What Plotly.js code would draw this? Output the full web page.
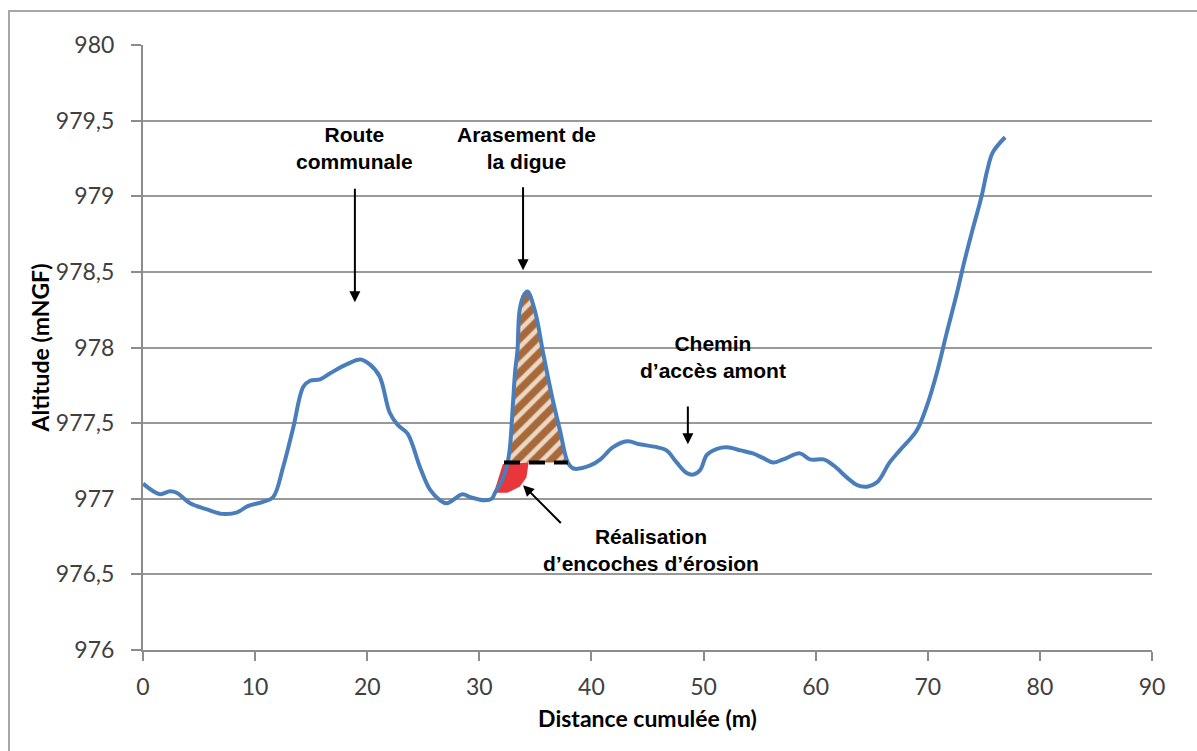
<!DOCTYPE html>
<html>
<head>
<meta charset="utf-8">
<script src="https://cdn.plot.ly/plotly-3.0.1.min.js"></script>
<style>html,body{margin:0;padding:0;background:#fff;}#chart{width:1197px;height:751px;}</style>
</head>
<body>
<div id="chart"></div>
<script>
// Profile: cumulative distance (m) and altitude (mNGF)
const distance = [0, 1.5, 2.4, 3.0, 4.2, 5.7, 7.1, 8.4, 9.3, 10.7, 11.6, 12.5, 13.4, 14.3, 14.9, 15.8, 16.7, 18.2, 19.4, 20.2, 21.1, 22.0, 22.7, 23.6, 24.7, 25.6, 26.5, 27.1, 28.5, 29.2, 30.5, 31.1, 31.4, 32.0, 32.4, 32.7, 33.0, 33.2, 33.4, 33.6, 34.0, 34.3, 35.0, 35.7, 36.5, 37.2, 37.9, 38.4, 39.9, 40.8, 41.9, 43.2, 44.3, 45.9, 46.7, 47.6, 48.5, 49.1, 49.7, 50.3, 51.2, 52.1, 53.3, 54.4, 55.3, 56.2, 57.1, 58.6, 59.5, 60.7, 61.6, 62.8, 63.7, 64.6, 65.5, 66.6, 67.5, 69.0, 69.9, 70.8, 71.7, 72.6, 73.3, 74.0, 74.8, 75.3, 75.8, 76.9];
const altitude = [977.10, 977.03, 977.05, 977.04, 976.97, 976.93, 976.90, 976.91, 976.95, 976.98, 977.01, 977.21, 977.47, 977.74, 977.78, 977.79, 977.83, 977.89, 977.92, 977.89, 977.81, 977.57, 977.49, 977.43, 977.21, 977.06, 976.99, 976.97, 977.03, 977.01, 976.99, 977.00, 977.04, 977.12, 977.20, 977.32, 977.63, 977.85, 977.98, 978.25, 978.35, 978.37, 978.23, 977.96, 977.67, 977.45, 977.24, 977.20, 977.22, 977.26, 977.34, 977.38, 977.36, 977.34, 977.32, 977.24, 977.17, 977.16, 977.19, 977.29, 977.33, 977.34, 977.32, 977.30, 977.27, 977.24, 977.26, 977.30, 977.26, 977.26, 977.22, 977.14, 977.09, 977.08, 977.11, 977.24, 977.32, 977.45, 977.61, 977.83, 978.10, 978.36, 978.58, 978.78, 979.00, 979.17, 979.29, 979.39];

// Levelling of the dike (arasement): base level and extent of the dashed line
const arasementLevel = 977.24;
const arasementBaseX = [32.2, 37.9];

// Erosion notch (red area)
const erosionX = [31.3, 32.1, 34.4, 34.2, 33.6, 32.5, 31.3];
const erosionY = [977.04, 977.23, 977.24, 977.14, 977.08, 977.04, 977.04];

// Axis ticks
const xTicks = [0, 10, 20, 30, 40, 50, 60, 70, 80, 90];
const yTicks = [976, 976.5, 977, 977.5, 978, 978.5, 979, 979.5, 980];
const yTickText = ["976", "976,5", "977", "977,5", "978", "978,5", "979", "979,5", "980"];

// Labels and arrows (tail -> head)
const labelTexts = ["Route<br>communale", "Arasement de<br>la digue", "Chemin<br>d’accès amont", "Réalisation<br>d’encoches d’érosion"];
const labelX = [18.9, 34.2, 50.8, 45.3];
const labelY = [979.32, 979.32, 977.94, 976.66];
const arrowTailX = [18.9, 33.9, 48.6, 37.4];
const arrowTailY = [979.06, 979.07, 977.62, 976.83];
const arrowHeadX = [18.9, 33.9, 48.6, 33.9];
const arrowHeadY = [978.30, 978.51, 977.36, 977.09];

// Build hatched dike polygon: profile above the base level, closed on the base line
function crossing(i) {
  const x0 = distance[i], x1 = distance[i + 1], y0 = altitude[i], y1 = altitude[i + 1];
  return x0 + (arasementLevel - y0) * (x1 - x0) / (y1 - y0);
}
const digueX = [], digueY = [];
for (let i = 0; i < distance.length - 1; i++) {
  if (distance[i] < 30 || distance[i] > 40) continue;
  const a = altitude[i] >= arasementLevel, b = altitude[i + 1] >= arasementLevel;
  if (a) { digueX.push(distance[i]); digueY.push(altitude[i]); }
  if (a !== b) { digueX.push(crossing(i)); digueY.push(arasementLevel); }
}
digueX.push(digueX[0]); digueY.push(digueY[0]);

const traces = [
  {x: digueX, y: digueY, mode: 'lines', fill: 'toself', line: {width: 0, color: 'rgba(0,0,0,0)'},
   fillcolor: '#a8693a',
   fillpattern: {shape: '/', bgcolor: '#a8693a', fgcolor: '#ecd8c4', size: 12, solidity: 0.38},
   hoverinfo: 'skip', showlegend: false},
  {x: erosionX, y: erosionY, mode: 'lines', fill: 'toself', line: {width: 0, color: 'rgba(0,0,0,0)'},
   fillcolor: '#e8363a', hoverinfo: 'skip', showlegend: false},
  {x: distance, y: altitude, mode: 'lines', line: {color: '#4a7ebb', width: 4, shape: 'spline', smoothing: 1},
   showlegend: false},
  {x: arasementBaseX, y: arasementBaseX.map(() => arasementLevel), mode: 'lines',
   line: {color: '#000', width: 4, dash: '16px,9px'}, hoverinfo: 'skip', showlegend: false}
];

const annotations = [];
for (let i = 0; i < labelTexts.length; i++) {
  annotations.push({x: labelX[i], y: labelY[i], xref: 'x', yref: 'y', text: labelTexts[i], showarrow: false,
    font: {family: 'Liberation Sans, Arial, sans-serif', size: 21, color: '#000', weight: 'bold'}, align: 'center'});
  annotations.push({x: arrowHeadX[i], y: arrowHeadY[i], ax: arrowTailX[i], ay: arrowTailY[i], xref: 'x', yref: 'y',
    axref: 'x', ayref: 'y', text: '', showarrow: true, arrowhead: 2, arrowsize: 1.1, arrowwidth: 2, arrowcolor: '#000'});
}

const layout = {
  width: 1197, height: 751,
  margin: {l: 143, r: 45, t: 45, b: 101},
  paper_bgcolor: '#fff', plot_bgcolor: '#fff',
  font: {family: 'Lato, Open Sans, sans-serif', color: '#404040'},
  xaxis: {
    range: [0, 90], tickvals: xTicks, ticktext: xTicks.map(String),
    showgrid: false, zeroline: false, showline: true, linecolor: '#8c8c8c', linewidth: 2,
    ticks: 'outside', ticklen: 9, tickcolor: '#8c8c8c', tickwidth: 2,
    tickfont: {size: 23, color: '#404040'}, ticklabelstandoff: 6,
    title: {text: 'Distance cumulée (m)', font: {size: 23, color: '#000', weight: 'bold'}, standoff: 12}
  },
  yaxis: {
    range: [976, 980], tickvals: yTicks, ticktext: yTickText,
    showgrid: true, gridcolor: '#999999', gridwidth: 2, zeroline: false,
    showline: true, linecolor: '#8c8c8c', linewidth: 2,
    ticks: 'outside', ticklen: 10, tickcolor: '#8c8c8c', tickwidth: 2,
    tickfont: {size: 23, color: '#404040'}, ticklabelstandoff: 12,
    title: {text: 'Altitude (mNGF)', font: {size: 23, color: '#000', weight: 'bold'}, standoff: 0}
  },
  shapes: [
    {type: 'rect', xref: 'paper', yref: 'paper', x0: -0.1328, x1: 1.2, y0: -0.3, y1: 1.0562,
     line: {color: '#a6a6a6', width: 2}, fillcolor: 'rgba(0,0,0,0)', layer: 'below'}
  ],
  annotations: annotations
};

Plotly.newPlot('chart', traces, layout, {displayModeBar: false, staticPlot: true});
</script>
</body>
</html>
